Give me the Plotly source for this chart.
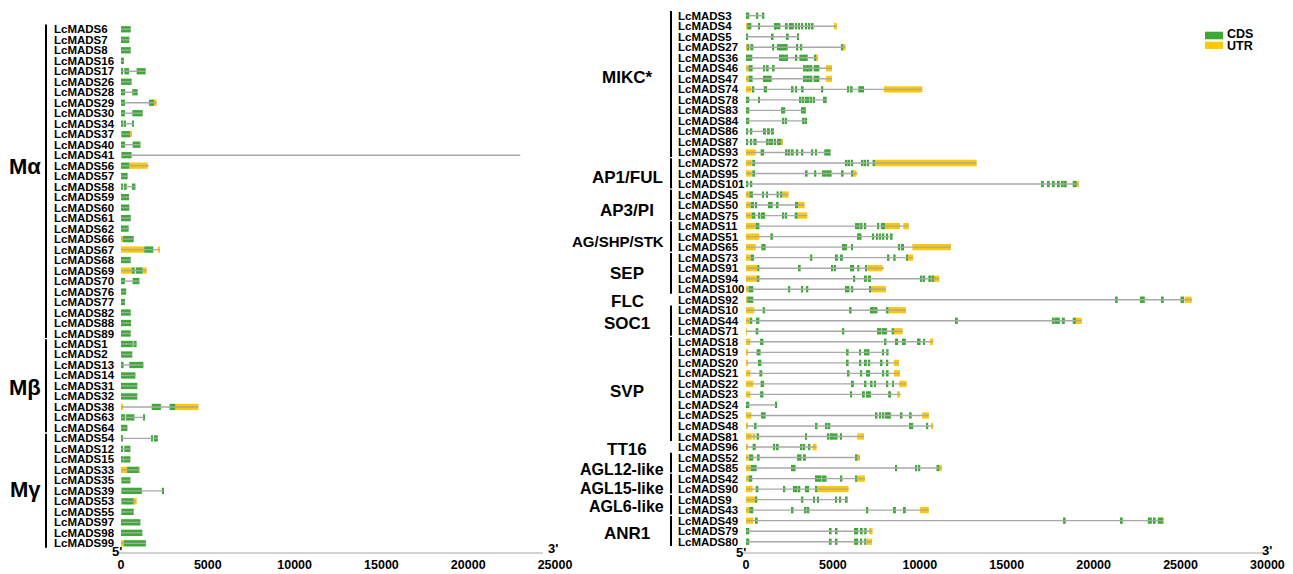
import plotly.graph_objects as go

W, H = 1293, 574
GREEN = "#3aaa35"
YELLOW = "#ffc800"
INTRON = "#a8a8a8"
FONT = "Liberation Sans, Arial, sans-serif"

# ---------------- data: left panel (type I MADS) ----------------
LEFT_GROUP_NAMES = ["Mα", "Mβ", "Mγ"]
LEFT_GROUP_SIZES = [30, 9, 11]
LEFT_GENES = ["LcMADS6", "LcMADS7", "LcMADS8", "LcMADS16", "LcMADS17", "LcMADS26", "LcMADS28",
              "LcMADS29", "LcMADS30", "LcMADS34", "LcMADS37", "LcMADS40", "LcMADS41", "LcMADS56",
              "LcMADS57", "LcMADS58", "LcMADS59", "LcMADS60", "LcMADS61", "LcMADS62", "LcMADS66",
              "LcMADS67", "LcMADS68", "LcMADS69", "LcMADS70", "LcMADS76", "LcMADS77", "LcMADS82",
              "LcMADS88", "LcMADS89",
              "LcMADS1", "LcMADS2", "LcMADS13", "LcMADS14", "LcMADS31", "LcMADS32", "LcMADS38",
              "LcMADS63", "LcMADS64",
              "LcMADS54", "LcMADS12", "LcMADS15", "LcMADS33", "LcMADS35", "LcMADS39", "LcMADS53",
              "LcMADS55", "LcMADS97", "LcMADS98", "LcMADS99"]
LEFT_CDS = [
    [[0, 560]], [[0, 480]], [[0, 560]], [[0, 170]],
    [[0, 100], [190, 460], [900, 1420]],
    [[0, 610]],
    [[0, 230], [650, 960]],
    [[0, 230], [1610, 1900]],
    [[0, 230], [650, 1250]],
    [[0, 90], [150, 290], [660, 740]],
    [[40, 520]],
    [[0, 230], [670, 1120]],
    [[40, 610]],
    [[0, 480]],
    [[0, 380]],
    [[0, 60], [170, 330], [630, 830]],
    [[0, 80], [110, 460]],
    [[0, 480]], [[0, 560]], [[0, 440]],
    [[110, 730]],
    [[1340, 1860]],
    [[0, 560]],
    [[630, 790], [850, 1250]],
    [[0, 230], [670, 1060]],
    [[0, 300]], [[0, 230]], [[0, 560]], [[0, 580]], [[0, 560]],
    [[0, 680], [720, 900]],
    [[0, 650]],
    [[0, 150], [480, 1290]],
    [[0, 830]], [[0, 940]], [[0, 940]],
    [[1770, 2300], [2800, 3130]],
    [[0, 60], [110, 240], [290, 770], [1290, 1340]],
    [[0, 370]],
    [[0, 60], [1730, 1790], [1900, 2120]],
    [[0, 90], [190, 540]],
    [[0, 90], [130, 540]],
    [[350, 1020]],
    [[40, 540]],
    [[40, 1200], [2370, 2420]],
    [[40, 730]], [[40, 730]],
    [[0, 1120]], [[0, 1230]],
    [[150, 1430]],
]
LEFT_UTR = [
    [], [], [], [], [], [], [], [[1900, 2050]], [], [], [[0, 40], [520, 610]], [], [[0, 40]],
    [[480, 1540]], [], [], [], [], [], [], [[0, 110]], [[0, 1340], [2170, 2240]], [],
    [[0, 630], [1250, 1480]], [], [], [], [], [], [],
    [], [], [], [], [], [], [[0, 130], [3130, 4460]], [], [],
    [], [], [], [[0, 350], [1020, 1060]], [[0, 40]], [[0, 40]], [[0, 40], [730, 900]], [[0, 40]],
    [], [], [[0, 150]],
]
LEFT_LINE_END = {"LcMADS41": 23000, "LcMADS56": 1600}
LEFT_TICKS = [0, 5000, 10000, 15000, 20000, 25000]

# ---------------- data: right panel (MIKC) ----------------
RIGHT_GROUP_NAMES = ["MIKC*", "AP1/FUL", "AP3/PI", "AG/SHP/STK", "SEP", "FLC", "SOC1", "SVP",
                     "TT16", "AGL12-like", "AGL15-like", "AGL6-like", "ANR1"]
RIGHT_GROUP_SIZES = [14, 3, 3, 3, 4, 1, 3, 10, 1, 2, 2, 2, 3]
RIGHT_GENES = ["LcMADS3", "LcMADS4", "LcMADS5", "LcMADS27", "LcMADS36", "LcMADS46", "LcMADS47",
               "LcMADS74", "LcMADS78", "LcMADS83", "LcMADS84", "LcMADS86", "LcMADS87", "LcMADS93",
               "LcMADS72", "LcMADS95", "LcMADS101",
               "LcMADS45", "LcMADS50", "LcMADS75",
               "LcMADS11", "LcMADS51", "LcMADS65",
               "LcMADS73", "LcMADS91", "LcMADS94", "LcMADS100",
               "LcMADS92",
               "LcMADS10", "LcMADS44", "LcMADS71",
               "LcMADS18", "LcMADS19", "LcMADS20", "LcMADS21", "LcMADS22", "LcMADS23", "LcMADS24",
               "LcMADS25", "LcMADS48", "LcMADS81",
               "LcMADS96",
               "LcMADS52", "LcMADS85",
               "LcMADS42", "LcMADS90",
               "LcMADS9", "LcMADS43",
               "LcMADS49", "LcMADS79", "LcMADS80"]
# a bare number is a narrow exon located at that position
RIGHT_CDS = [
    [[0, 190], 650, 1000],
    [[80, 310], 750, 1670, 1780, 1920, 2340, 2530, 2700, 2880, 3050, 3240, 3450, 3640, 3830],
    [[0, 120], 1530, 2400, 2990],
    [[60, 190], [250, 420], 1570, 1880, 1990, 2110, 2220, 2340, 2950, 3180, [5460, 5600]],
    [[0, 360], 1990, 2110, 2240, 2360, [2840, 2950], [3070, 3550], [3950, 4030]],
    [[150, 380], 1040, 1250, 1590, 3390, 3510, 3620, 3760, [3890, 4220]],
    [[150, 380], 1040, 1150, 1270, 1420, 3390, 3510, 3620, 3760, [3890, 4220]],
    [420, [1020, 1210], 2680, 2890, 3260, 4390, 5880, 6080, [6460, 6790]],
    [[0, 190], 750, 3140, 3300, 3450, 3600, 3760, 3910, [4430, 4640]],
    [[0, 190], 2070, 2200, 3240, 3390],
    [[0, 190], 2150, 2300, 3320, 3450],
    [[0, 120], [250, 360], 1090, 1320, 1550],
    [[0, 120], [270, 350], [420, 610], 1250, 1380, 1510, 1670, [1780, 2030]],
    [[840, 1040], 2340, 2490, 2680, 2950, 3240, 3810, 4030, [4500, 4870]],
    [[360, 520], 5790, 5940, 6100, 6710, 6860, 7020, [7280, 7420]],
    [[360, 520], 3490, 3990, 4450, 4600, 4750, 4870, 5560, [6080, 6170]],
    [[0, 130], [230, 360], 17080, 17420, 17710, 18000, 18230, 18400, [18800, 19030]],
    [[190, 400], [940, 1020], [1190, 1250], [1760, 1880], [1960, 2090]],
    [[270, 460], [560, 610], 1340, 1480, 1820, [2820, 2990]],
    [[330, 540], 770, 920, 1050, 2150, 2300, [2800, 2970]],
    [[560, 770], 6330, 6480, 6650, 6860, 7610, [7760, 8000]],
    [[1400, 1550], 6460, 6590, 7320, 7550, 7710, 7900, [8050, 8170], 8380],
    [[880, 1130], 5600, 5750, 6100, [8740, 8860], [8910, 9090]],
    [[270, 460], 3760, 5230, 5520, 8200, [8470, 8610], [9200, 9320]],
    [[650, 770], 3090, 4970, 5120, 6080, 6170, [6400, 6520], 6920],
    [[670, 770], 6230, 6900, 7130, 10100, 10250, [10490, 10680], 10770],
    [[150, 420], 2490, 3220, 3530, 5790, 5900, [6040, 6170], [7090, 7170]],
    [[80, 420], 21330, 22770, 22890, 23980, [25000, 25200]],
    [[960, 1090], 6020, 7230, 7360, 7510, [8050, 8200]],
    [[270, 360], [580, 770], 12130, 17710, 17880, 18000, 18290, [18800, 18980]],
    [[560, 710], 5600, 7610, 7740, 7900, 8050, [8380, 8510]],
    [[810, 1000], 8030, 8630, 8700, 9050, 9140, 9910, 9990, [10200, 10280]],
    [[610, 840], 5850, 6560, 6900, 7050, 7880, [8070, 8200]],
    [[690, 880], 5850, 6580, 6900, 7090, 7800, 8130],
    [[770, 940], 5900, 6630, 6990, 7090, 7900, 8150],
    [[840, 1040], 6150, 6880, 7230, 7420, 8130, [8440, 8510]],
    [[810, 1000], 6040, 6780, 6980, 7130, [8180, 8340]],
    [[0, 190], [1670, 1730]],
    [[860, 1130], 7510, 7710, 7900, 8090, 8180, 8280, 8950, [9430, 9530]],
    [[500, 610], 4060, 4640, 4790, [9390, 9500], [9530, 9620], 10430],
    [[610, 750], 3450, 4750, 4890, 5060, 5210, [5430, 5520]],
    [[380, 560], 1610, [1780, 1880], 3200, 3350, [3570, 3700]],
    [[170, 420], 730, 3010, 3140, 3390, [6270, 6420]],
    [[270, 610], 2680, 2800, 8630, 9780, 9970, [10960, 11120]],
    [[150, 360], 4060, 4180, 4290, 4450, 4580, [5410, 5540], [6290, 6360]],
    [[560, 710], 2200, 2760, 2910, 3070, 3490, 3580, [4010, 4100]],
    [[520, 650], 3240, 3910, 4140, 5180, 5410, 5790],
    [[190, 420], 2680, 3430, 3590, 6980, 8570, 9140],
    [[560, 670], 18340, 21620, [23120, 23350], 23520, [23690, 23980]],
    [[0, 190], 4870, 5210, 6290, 6400, [6600, 6710], [6800, 6940]],
    [[0, 190], 4870, 5210, 6290, 6400, 6630, [6800, 6920]],
]
RIGHT_UTR = [
    [], [[0, 80], [5060, 5230]], [], [[0, 60], [5600, 5730]], [[4030, 4100]],
    [[0, 150], [4600, 4950]], [[0, 150], [4600, 4950]], [[0, 310], [7940, 10140]],
    [], [], [], [], [[2030, 2110]], [[0, 560]],
    [[0, 330], [7420, 13270]], [[0, 330], [6170, 6360]], [[19030, 19150]],
    [[0, 190], [2090, 2450]], [[0, 270], [2990, 3370]], [[0, 330], [2970, 3530]],
    [[0, 560], [8000, 8860], [9050, 9370]], [[0, 770]], [[0, 560], [9570, 11790]],
    [[0, 270], [9320, 9620]], [[0, 650], [7020, 7860]], [[0, 670], [10810, 11120]],
    [[0, 150], [7170, 8050]],
    [[0, 80], [25240, 25650]],
    [[0, 480], [8200, 9200]], [[0, 270], [18980, 19320]], [[0, 40], [8510, 9010]],
    [[0, 250], [10580, 10770]], [[0, 120]], [[0, 80], [8510, 8800]], [[0, 250], [8510, 8860]],
    [[0, 420], [8820, 9240]], [[0, 250], [8700, 8860]], [], [[0, 310], [10140, 10520]],
    [[0, 100], [10680, 10770]], [[0, 330], [380, 540], [6400, 6790]],
    [[0, 120], [3830, 4060]],
    [[0, 150], [6420, 6560]], [[0, 270], [11120, 11270]],
    [[0, 150], [6360, 6840]], [[0, 380], [4100, 5900]],
    [[0, 520]], [[0, 190], [10010, 10520]],
    [[0, 420], [23980, 24040]], [[7070, 7280]], [[6940, 7250]],
]
RIGHT_LINE_END = {"LcMADS95": 6420, "LcMADS91": 7940, "LcMADS23": 8900}
RIGHT_TICKS = [0, 5000, 10000, 15000, 20000, 25000, 30000]

# ---------------- layout geometry (pixels) ----------------
NARROW = 110  # drawn width (bp) of a narrow exon
L = dict(px0=121, pxk=17.36, dom=(100, 585), row0=29.3, step=10.49, lab_x=52, grp_x=46,
         grp_lab_x=25, gfont=22, lfont=11.5, lweight="bold", axis_end=24300,
         long_labels={}, long_right=0)
R = dict(px0=746, pxk=17.38, dom=(700, 1290), row0=15.7, step=10.52, lab_x=676, grp_x=671,
         grp_lab_x=627, gfont=17, lfont=11.5, lweight="bold", axis_end=29700,
         long_labels={"AG/SHP/STK": 15, "AGL12-like": 16, "AGL15-like": 16, "AGL6-like": 16},
         long_right=666)
Y_BOTTOM = 553


def norm(items):
    out = []
    for it in items:
        if isinstance(it, (int, float)):
            out.append((it - NARROW / 2, it + NARROW / 2))
        else:
            out.append((it[0], it[1]))
    return out


fig = go.Figure()
annotations = []
shapes = []


def panel(genes, cds, utr, line_end, group_names, group_sizes, ticks, g, xa, ya, lab_offsets):
    yref = ya.replace("axis", "")
    xref = xa.replace("axis", "")
    xs, ys = [], []
    bars = {"cds": ([], [], []), "utr": ([], [], [])}
    for r, name in enumerate(genes):
        c = norm(cds[r])
        u = norm(utr[r])
        allx = [v for seg in c + u for v in seg]
        s, e = min(allx), max(allx)
        e = max(e, line_end.get(name, e))
        xs += [max(s, 0), e, None]
        ys += [r, r, None]
        for key, segs in (("cds", c), ("utr", u)):
            for a, b in segs:
                bars[key][0].append(r)
                bars[key][1].append(a)
                bars[key][2].append(b - a)
        annotations.append(dict(x=g["lab_x"] / W, xref="paper", y=r, yref=yref,
                                text=name, showarrow=False, xanchor="left", yanchor="middle",
                                font=dict(family=FONT, size=g["lfont"], color="black",
                                          weight=g["lweight"])))
    fig.add_trace(go.Scatter(x=xs, y=ys, mode="lines", line=dict(color=INTRON, width=1.4),
                             hoverinfo="skip", showlegend=False, xaxis=xref, yaxis=yref))
    for key, col in (("utr", YELLOW), ("cds", GREEN)):
        yv, bv, lv = bars[key]
        fig.add_trace(go.Bar(orientation="h", y=yv, base=bv, x=lv, width=0.6,
                             marker=dict(color=col, line=dict(width=0)),
                             hoverinfo="skip", showlegend=False, xaxis=xref, yaxis=yref))
    start = 0
    for gi, (gname, size) in enumerate(zip(group_names, group_sizes)):
        end = start + size - 1
        if size > 1:
            shapes.append(dict(type="line", xref="paper", yref=yref, x0=g["grp_x"] / W,
                               x1=g["grp_x"] / W, y0=start - 0.45, y1=end + 0.42,
                               line=dict(color="black", width=2)))
        if gname in g["long_labels"]:
            gx, anchor, fs = g["long_right"], "right", g["long_labels"][gname]
        else:
            gx, anchor, fs = g["grp_lab_x"], "center", g["gfont"]
        annotations.append(dict(x=gx / W, xref="paper",
                                y=(start + end) / 2 + lab_offsets[gi], yref=yref,
                                text=gname, showarrow=False, xanchor=anchor, yanchor="middle",
                                font=dict(family=FONT, size=fs, color="black", weight="bold")))
        start = end + 1
    # axis baseline
    shapes.append(dict(type="line", xref=xref, yref=yref + " domain", x0=-180, x1=g["axis_end"],
                       y0=0, y1=0, line=dict(color="#c4c4c4", width=1.5)))
    s = g["pxk"] / 1000.0
    d0, d1 = g["dom"]
    rng_x = [(d0 - g["px0"]) / s, (d1 - g["px0"]) / s]
    rng_y = [(Y_BOTTOM - g["row0"]) / g["step"], -g["row0"] / g["step"]]
    fig.update_layout(**{
        xa: dict(domain=[d0 / W, d1 / W], range=rng_x, anchor=yref, showgrid=False,
                 zeroline=False, showline=False, ticks="", tickvals=ticks,
                 ticktext=[str(t) for t in ticks], ticklabelstandoff=2,
                 tickfont=dict(family=FONT, size=12.5, color="black", weight="bold"),
                 fixedrange=True),
        ya: dict(domain=[(H - Y_BOTTOM) / H, 1], range=rng_y, anchor=xref, visible=False,
                 showgrid=False, zeroline=False, fixedrange=True),
    })


panel(LEFT_GENES, LEFT_CDS, LEFT_UTR, LEFT_LINE_END, LEFT_GROUP_NAMES, LEFT_GROUP_SIZES,
      LEFT_TICKS, L, "xaxis", "yaxis", [-1.4, 0.1, -0.1])
panel(RIGHT_GENES, RIGHT_CDS, RIGHT_UTR, RIGHT_LINE_END, RIGHT_GROUP_NAMES, RIGHT_GROUP_SIZES,
      RIGHT_TICKS, R, "xaxis2", "yaxis2",
      [-0.65, 0.4, 0.5, 0.5, 0.05, 0.2, 0.3, 0.2, 0.2, 0.6, 0.4, 0.2, 0.2])


def pnote(text, x, y, size=13):
    annotations.append(dict(x=x / W, y=1 - y / H, xref="paper", yref="paper", text=text,
                            showarrow=False, xanchor="center", yanchor="middle",
                            font=dict(family=FONT, size=size, color="black", weight="bold")))


pnote("5'", 117, 551)
pnote("3'", 553, 548)
pnote("5'", 741, 552)
pnote("3'", 1267, 550)

# legend
shapes.append(dict(type="rect", xref="paper", yref="paper", x0=1205 / W, x1=1223 / W,
                   y0=1 - 39.3 / H, y1=1 - 31.7 / H, fillcolor=GREEN, line=dict(width=0)))
shapes.append(dict(type="rect", xref="paper", yref="paper", x0=1205 / W, x1=1223 / W,
                   y0=1 - 49 / H, y1=1 - 41.7 / H, fillcolor=YELLOW, line=dict(width=0)))
for txt, yy in (("CDS", 34), ("UTR", 46)):
    annotations.append(dict(x=1225 / W, y=1 - yy / H, xref="paper", yref="paper", text=txt,
                            showarrow=False, xanchor="left", yanchor="middle",
                            font=dict(family=FONT, size=12.5, color="black", weight="bold")))

fig.update_layout(width=W, height=H, margin=dict(l=0, r=0, t=0, b=0), barmode="overlay",
                  plot_bgcolor="white", paper_bgcolor="white", showlegend=False,
                  annotations=annotations, shapes=shapes)

fig.write_html("out.html", config={"displayModeBar": False})
